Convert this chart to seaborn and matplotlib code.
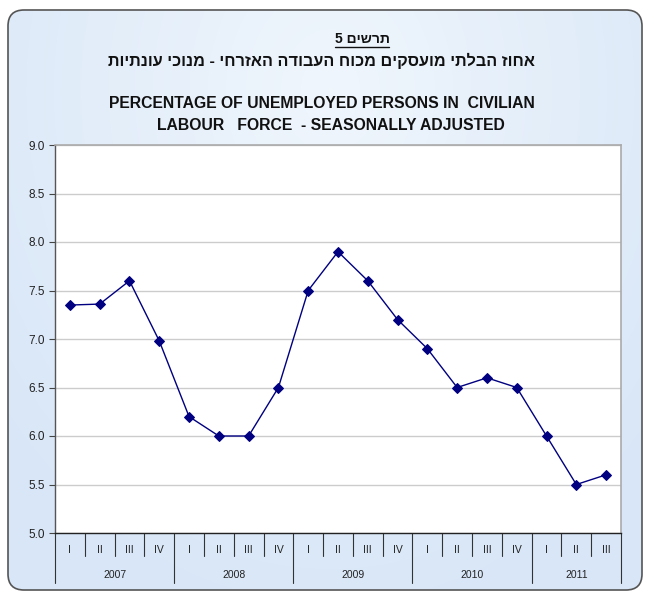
import numpy as np
import pandas as pd
import matplotlib
matplotlib.use("Agg")
import matplotlib.pyplot as plt
import seaborn as sns
from matplotlib.patches import FancyBboxPatch
from matplotlib.lines import Line2D
import matplotlib.transforms as mtransforms

# ---- data ----
quarters = ["I", "II", "III", "IV", "I", "II", "III", "IV", "I", "II", "III", "IV",
            "I", "II", "III", "IV", "I", "II", "III"]
years = ["2007", "2008", "2009", "2010", "2011"]
quarters_per_year = [4, 4, 4, 4, 3]
values = [7.35, 7.36, 7.6, 6.98, 6.2, 6.0, 6.0, 6.5, 7.5, 7.9, 7.6, 7.2,
          6.9, 6.5, 6.6, 6.5, 6.0, 5.5, 5.6]
title_he_1 = "תרשים 5"
title_he_2 = "אחוז הבלתי מועסקים מכוח העבודה האזרחי - מנוכי עונתיות"
title_en_1 = "PERCENTAGE OF UNEMPLOYED PERSONS IN  CIVILIAN"
title_en_2 = "LABOUR   FORCE  - SEASONALLY ADJUSTED"
y_ticks = [5.0, 5.5, 6.0, 6.5, 7.0, 7.5, 8.0, 8.5, 9.0]


def visual_rtl(s):
    # simple visual reordering for RTL rendering: reverse, but keep digit runs in order
    import re
    parts = re.split(r"(\d+)", s)
    out = []
    for p in parts:
        if p.isdigit():
            out.append(p)
        else:
            out.append(p[::-1])
    return "".join(out[::-1])


sns.set_style("white")
plt.rcParams["font.family"] = ["Liberation Sans", "DejaVu Sans"]

W, H = 645, 592
fig = plt.figure(figsize=(W / 100, H / 100), dpi=100)

# ---- background rounded box with gradient ----
bg_ax = fig.add_axes([0, 0, 1, 1], zorder=-10)
bg_ax.set_xlim(0, W)
bg_ax.set_ylim(H, 0)
bg_ax.axis("off")
yy, xx = np.mgrid[0:H, 0:W]
d = np.sqrt(((xx - 330) / 420.0) ** 2 + ((yy - 90) / 520.0) ** 2)
d = np.clip(d, 0, 1)
c_in = np.array([0.94, 0.965, 0.99])
c_out = np.array([0.85, 0.905, 0.97])
img = c_in[None, None, :] * (1 - d[..., None]) + c_out[None, None, :] * d[..., None]
box = FancyBboxPatch((8, 10), 634, 580, boxstyle="round,pad=0,rounding_size=16",
                     transform=bg_ax.transData, facecolor="none",
                     edgecolor="#555555", linewidth=1.2, zorder=3)
im = bg_ax.imshow(img, extent=[0, W, H, 0], zorder=1)
bg_ax.add_patch(box)
im.set_clip_path(box)

# ---- plot area ----
L, R, T, B = 55, 621, 145, 533
ax = fig.add_axes([L / W, 1 - B / H, (R - L) / W, (B - T) / H])
ax.set_facecolor("white")

df = pd.DataFrame({"x": np.arange(len(values)), "y": values})
sns.lineplot(data=df, x="x", y="y", ax=ax, color="#000080", linewidth=1.0,
             marker="D", markersize=5, markeredgecolor="#000080",
             markerfacecolor="#000080")

ax.set_xlim(-0.5, len(values) - 0.5)
ax.set_ylim(5.0, 9.0)
ax.set_yticks(y_ticks)
ax.set_yticklabels([f"{v:.1f}" for v in y_ticks], fontsize=8.5, color="#222222")
ax.yaxis.grid(True, color="#cccccc", linewidth=1.0)
ax.tick_params(axis="y", length=4, width=0.8, color="#444444", pad=3, left=True)
ax.set_xticks([])
ax.set_xlabel("")
ax.set_ylabel("")
for s in ["top", "right"]:
    ax.spines[s].set_color("#aaaaaa")
    ax.spines[s].set_linewidth(1.2)
ax.spines["left"].set_color("#555555")
ax.spines["left"].set_linewidth(1.0)
ax.spines["bottom"].set_color("#222222")
ax.spines["bottom"].set_linewidth(1.0)

# ---- category axis (two-level) ----
trans = mtransforms.blended_transform_factory(ax.transData, ax.transAxes)
px = 1.0 / (B - T)  # one pixel in axes fraction
for i, q in enumerate(quarters):
    ax.text(i, -17 * px, q, transform=trans, ha="center", va="center",
            fontsize=7.5, color="#222222", clip_on=False)
# boundary lines
year_bounds = np.cumsum([0] + quarters_per_year)
for k in range(len(quarters) + 1):
    is_year = k in year_bounds
    y_end = -50 * px if is_year else -23 * px
    ax.add_line(Line2D([k - 0.5, k - 0.5], [0, y_end], transform=trans,
                       color="#333333", linewidth=0.8, clip_on=False))
for j, yr in enumerate(years):
    mid = (year_bounds[j] + year_bounds[j + 1] - 1) / 2.0
    ax.text(mid, -42 * px, yr, transform=trans, ha="center", va="center",
            fontsize=7.5, color="#222222", clip_on=False)

# ---- titles ----
t1 = fig.text(362 / W, 1 - 39 / H, visual_rtl(title_he_1), ha="center", va="center",
              fontsize=10, fontweight="bold", color="#111111")
fig.text(321 / W, 1 - 61 / H, visual_rtl(title_he_2), ha="center", va="center",
         fontsize=11.7, fontweight="bold", color="#111111")
fig.text(322 / W, 1 - 104 / H, title_en_1, ha="center", va="center",
         fontsize=11.3, fontweight="bold", color="#111111")
fig.text(331 / W, 1 - 126 / H, title_en_2, ha="center", va="center",
         fontsize=11.3, fontweight="bold", color="#111111")

fig.canvas.draw()
bb = t1.get_window_extent()
fig.add_artist(Line2D([bb.x0 / W, bb.x1 / W], [(bb.y0 - 1) / H, (bb.y0 - 1) / H],
                      transform=fig.transFigure, color="#111111", linewidth=1.0))

fig.savefig("out.png", dpi=100)
